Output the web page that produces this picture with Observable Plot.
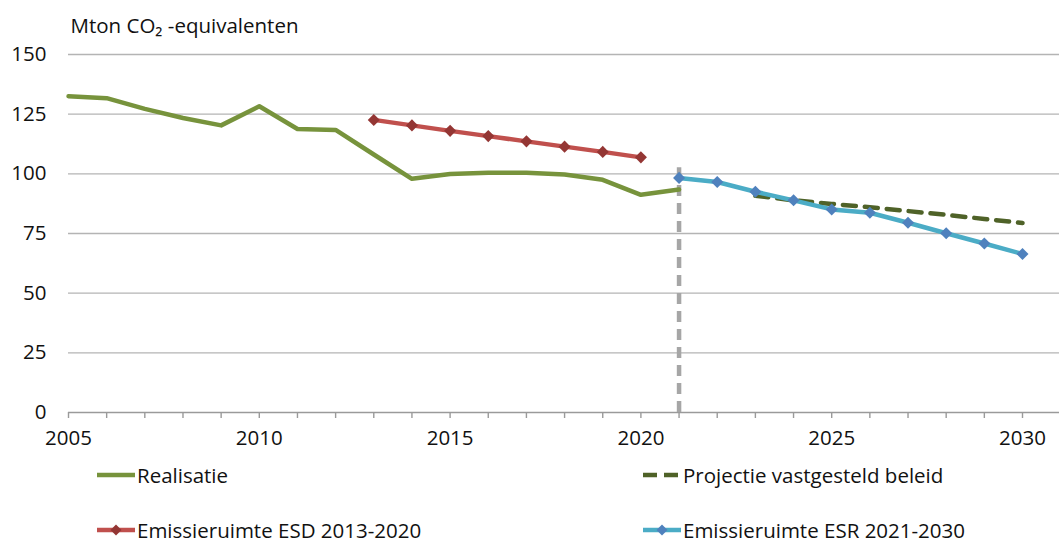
<!DOCTYPE html>
<html>
<head>
<meta charset="utf-8">
<script src="https://cdn.jsdelivr.net/npm/d3@7"></script>
<script src="https://cdn.jsdelivr.net/npm/@observablehq/plot@0.6"></script>
<style>
  html, body { margin: 0; padding: 0; background: #fff; }
  #wrap { width: 1059px; font-family: "Open Sans", sans-serif; color: #111; }
  #legend { position: relative; width: 1059px; height: 89px; font-size: 20.5px; }
  .item { position: absolute; display: flex; align-items: center; white-space: nowrap; }
  .item svg { display: block; margin-right: 2px; }
</style>
</head>
<body>
<div id="wrap"></div>
<script>
// ---- data ----
const titleText = "Mton CO₂ -equivalenten";
const realYears = [2005, 2006, 2007, 2008, 2009, 2010, 2011, 2012, 2013, 2014, 2015, 2016, 2017, 2018, 2019, 2020, 2021];
const realValues = [132.5, 131.7, 127.2, 123.4, 120.3, 128.3, 118.8, 118.4, 108.1, 97.9, 99.9, 100.5, 100.5, 99.7, 97.5, 91.2, 93.4];

const esdYears = [2013, 2014, 2015, 2016, 2017, 2018, 2019, 2020];
const esdValues = [122.6, 120.3, 118.0, 115.8, 113.6, 111.4, 109.2, 106.9];

const esrYears = [2021, 2022, 2023, 2024, 2025, 2026, 2027, 2028, 2029, 2030];
const esrValues = [98.3, 96.6, 92.5, 88.9, 85.1, 83.7, 79.5, 75.1, 70.8, 66.4];

const projYears = [2023, 2024, 2025, 2026, 2027, 2028, 2029, 2030];
const projValues = [90.8, 88.9, 87.4, 86.0, 84.4, 82.8, 81.1, 79.4];

const yTicks = [0, 25, 50, 75, 100, 125, 150];
const xTicks = [2005, 2006, 2007, 2008, 2009, 2010, 2011, 2012, 2013, 2014, 2015, 2016, 2017, 2018, 2019, 2020, 2021, 2022, 2023, 2024, 2025, 2026, 2027, 2028, 2029, 2030];
const xLabels = [2005, 2010, 2015, 2020, 2025, 2030];
const splitYear = [2021];
const splitTop = 102.5;

const seriesNames = ["Realisatie", "Projectie vastgesteld beleid", "Emissieruimte ESD 2013-2020", "Emissieruimte ESR 2021-2030"];
const colors = {
  real: "#77933c",
  proj: "#4f6228",
  esdLine: "#c0504d",
  esdMark: "#943634",
  esrLine: "#4bacc6",
  esrMark: "#4f81bd",
  grid: "#b4b4b4",
  split: "#a6a6a6"
};

const real = realYears.map((y, i) => ({year: y, value: realValues[i]}));
const esd = esdYears.map((y, i) => ({year: y, value: esdValues[i]}));
const esr = esrYears.map((y, i) => ({year: y, value: esrValues[i]}));
const proj = projYears.map((y, i) => ({year: y, value: projValues[i]}));

const chart = Plot.plot({
  width: 1059,
  height: 455,
  marginLeft: 68,
  marginRight: 37,
  marginTop: 54,
  marginBottom: 43,
  x: {domain: [2005, 2030]},
  y: {domain: [0, 150]},
  style: {fontFamily: "Open Sans, sans-serif", fontSize: "20.5px", color: "#111", background: "#fff", overflow: "visible"},
  marks: [
    Plot.ruleY(yTicks.filter(d => d > 0), {x1: 2005, x2: 2031, stroke: colors.grid, strokeWidth: 1.4}),
    Plot.ruleY([0], {x1: 2005, x2: 2031, stroke: "#9a9a9a", strokeWidth: 1.4}),
    Plot.axisY({ticks: yTicks, tickSize: 0, tickPadding: 22, label: null, fontSize: 20.5}),
    Plot.axisX({ticks: xTicks, tickSize: 6, tickPadding: 12, stroke: "#9a9a9a", strokeWidth: 1.4,
      tickFormat: d => xLabels.includes(d) ? String(d) : "", label: null, fontSize: 20.5}),
    Plot.ruleX(splitYear, {y1: 0, y2: splitTop, stroke: colors.split, strokeWidth: 4.5, strokeDasharray: "11,7"}),
    Plot.line(real, {x: "year", y: "value", stroke: colors.real, strokeWidth: 4.5}),
    Plot.line(proj, {x: "year", y: "value", stroke: colors.proj, strokeWidth: 4.5, strokeDasharray: "13,9"}),
    Plot.line(esd, {x: "year", y: "value", stroke: colors.esdLine, strokeWidth: 4.5}),
    Plot.dot(esd, {x: "year", y: "value", symbol: "square", rotate: 45, r: 4.8, fill: colors.esdMark}),
    Plot.line(esr, {x: "year", y: "value", stroke: colors.esrLine, strokeWidth: 4.5}),
    Plot.dot(esr, {x: "year", y: "value", symbol: "square", rotate: 45, r: 4.8, fill: colors.esrMark}),
    Plot.text([titleText], {frameAnchor: "top-left", dx: 2, dy: -36, textAnchor: "start", fontSize: 20.5})
  ]
});

const wrap = document.getElementById("wrap");
wrap.appendChild(chart);

// ---- legend ----
const legend = document.createElement("div");
legend.id = "legend";
const items = [
  {name: seriesNames[0], left: 97, top: 20, kind: "line", color: colors.real},
  {name: seriesNames[1], left: 643, top: 20, kind: "dash", color: colors.proj},
  {name: seriesNames[2], left: 97, top: 75, kind: "marker", color: colors.esdLine, mark: colors.esdMark},
  {name: seriesNames[3], left: 643, top: 75, kind: "marker", color: colors.esrLine, mark: colors.esrMark}
];
for (const it of items) {
  const div = document.createElement("div");
  div.className = "item";
  div.style.left = it.left + "px";
  div.style.top = (it.top - 14) + "px";
  div.style.height = "28px";
  let sw = "";
  if (it.kind === "line") {
    sw = `<line x1="0" x2="38" y1="7" y2="7" stroke="${it.color}" stroke-width="4.5"/>`;
  } else if (it.kind === "dash") {
    sw = `<line x1="0" x2="38" y1="7" y2="7" stroke="${it.color}" stroke-width="4.5" stroke-dasharray="14,7"/>`;
  } else {
    sw = `<line x1="0" x2="38" y1="7" y2="7" stroke="${it.color}" stroke-width="4.5"/>` +
         `<path d="M19,1.5 L24.5,7 L19,12.5 L13.5,7 Z" fill="${it.mark}"/>`;
  }
  div.innerHTML = `<svg width="38" height="14" viewBox="0 0 38 14">${sw}</svg><span>${it.name}</span>`;
  legend.appendChild(div);
}
wrap.appendChild(legend);
</script>
</body>
</html>
